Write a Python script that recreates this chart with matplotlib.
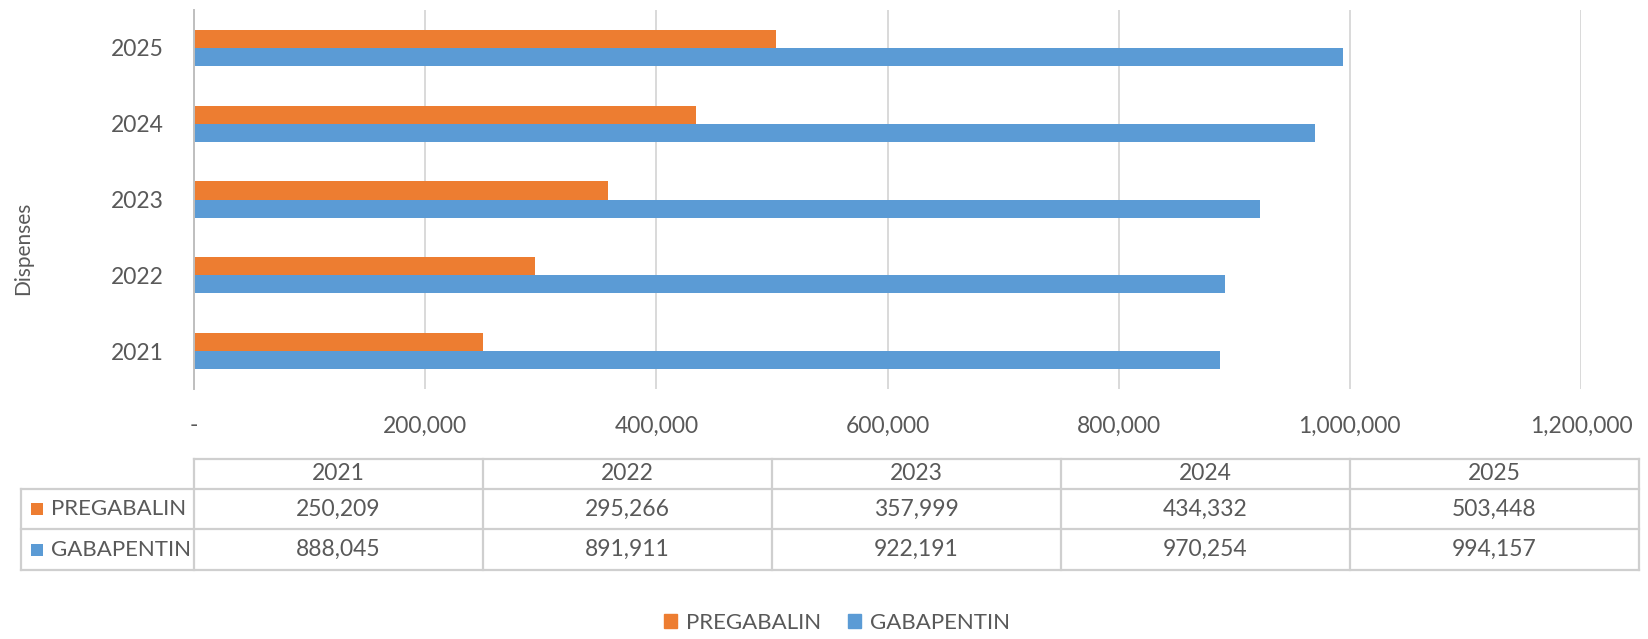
import matplotlib.pyplot as plt
import numpy as np
from matplotlib.patches import Patch
from matplotlib.ticker import FuncFormatter

years = ["2021", "2022", "2023", "2024", "2025"]
pregabalin = [250209, 295266, 357999, 434332, 503448]
gabapentin = [888045, 891911, 922191, 970254, 994157]
series_names = ["PREGABALIN", "GABAPENTIN"]
x_ticks = [0, 200000, 400000, 600000, 800000, 1000000, 1200000]

ORANGE = "#ED7D31"
BLUE = "#5B9BD5"
TEXT = "#595959"
GRID = "#D9D9D9"
BORDER = "#CFCFCF"
FS = 16.5

plt.rcParams["font.family"] = ["Lato", "DejaVu Sans"]

W, H = 1648, 639
fig = plt.figure(figsize=(W / 100, H / 100), dpi=100)


def box(x0, y0, x1, y1):
    # pixel box (top-left origin) -> figure fraction rect
    return [x0 / W, 1 - y1 / H, (x1 - x0) / W, (y1 - y0) / H]


# main bar chart
ax = fig.add_axes(box(194, 10, 1581, 389))
y = np.arange(len(years))
h = 0.24
ax.barh(y + h / 2, pregabalin, height=h, color=ORANGE, label=series_names[0])
ax.barh(y - h / 2, gabapentin, height=h, color=BLUE, label=series_names[1])
ax.set_ylim(-0.5, len(years) - 0.5)
ax.set_xlim(0, x_ticks[-1])
ax.set_xticks(x_ticks)
ax.xaxis.set_major_formatter(
    FuncFormatter(lambda v, _: "-" if v == 0 else f"{v:,.0f}")
)
ax.set_yticks(y, years)
ax.grid(axis="x", color=GRID, lw=1.4)
ax.set_axisbelow(True)
for s in ["top", "right", "bottom"]:
    ax.spines[s].set_visible(False)
ax.spines["left"].set_color("#BFBFBF")
ax.spines["left"].set_linewidth(1.4)
ax.tick_params(length=0, labelsize=FS, colors=TEXT)
ax.tick_params(axis="x", pad=19)
ax.tick_params(axis="y", pad=22)

fig.text(23 / W, 1 - 248 / H, "Dispenses", rotation=90, fontsize=15,
         color=TEXT, ha="center", va="center")

# data table under the chart
col_w = (1639 - 194) / len(years)  # px per column
lab_w = (194 - 21) / col_w
row_edges = [0, 30, 70, 111]  # px from table top
tax = fig.add_axes(box(21, 459, 1639, 570))
tax.set_xlim(-lab_w, len(years))
tax.set_ylim(row_edges[-1], 0)
tax.axis("off")

line_kw = dict(color=BORDER, lw=1.6, clip_on=False, solid_capstyle="projecting")
tax.plot([0, len(years)], [row_edges[0]] * 2, **line_kw)
for e in row_edges[1:]:
    tax.plot([-lab_w, len(years)], [e, e], **line_kw)
tax.plot([-lab_w, -lab_w], [row_edges[1], row_edges[-1]], **line_kw)
for i in range(len(years) + 1):
    tax.plot([i, i], [row_edges[0], row_edges[-1]], **line_kw)

hdr_y = (row_edges[0] + row_edges[1]) / 2
for i, yr in enumerate(years):
    tax.text(i + 0.5, hdr_y, yr, ha="center", va="center", fontsize=FS, color=TEXT)

for r, (name, vals, c) in enumerate(zip(series_names, [pregabalin, gabapentin], [ORANGE, BLUE])):
    ry = (row_edges[r + 1] + row_edges[r + 2]) / 2
    tax.scatter([(36.5 - 194) / col_w], [ry], marker="s", s=85, color=c,
                linewidths=0, clip_on=False)
    tax.text((51 - 194) / col_w, ry, name, ha="left", va="center",
             fontsize=FS - 0.5, color=TEXT)
    for i, v in enumerate(vals):
        tax.text(i + 0.5, ry, f"{v:,}", ha="center", va="center",
                 fontsize=FS, color=TEXT)

# legend
handles = [Patch(color=ORANGE, label=series_names[0]),
           Patch(color=BLUE, label=series_names[1])]
fig.legend(handles=handles, loc="center", bbox_to_anchor=(837 / W, 1 - 623 / H),
           ncol=2, frameon=False, fontsize=FS - 0.5, labelcolor=TEXT,
           handlelength=0.6, handleheight=0.6, handletextpad=0.4,
           columnspacing=1.2)

fig.savefig("out.png", dpi=100)
